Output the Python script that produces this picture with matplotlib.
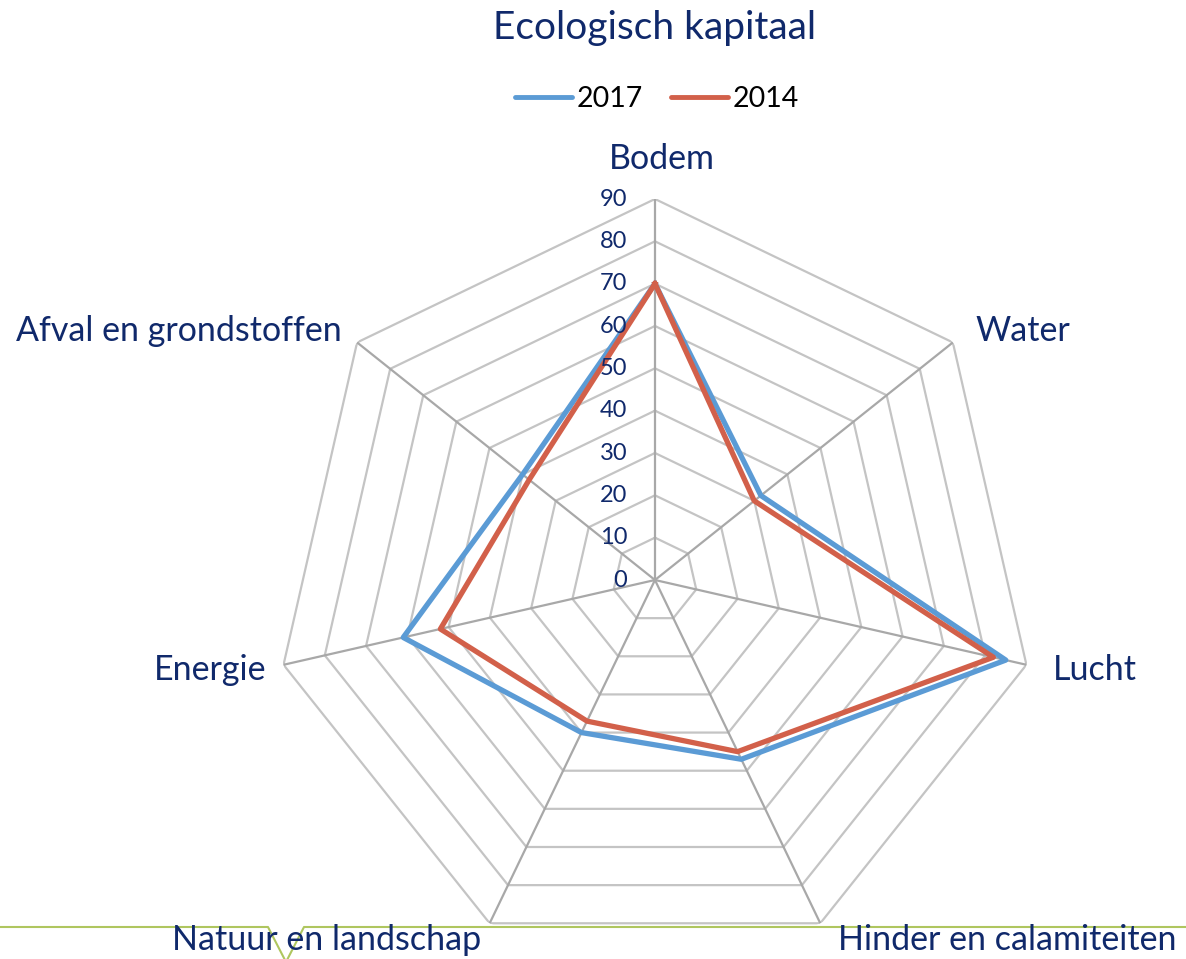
import numpy as np
import matplotlib.pyplot as plt
from matplotlib.lines import Line2D

plt.rcParams['font.family'] = ['Lato', 'DejaVu Sans']

# data
categories = ['Bodem', 'Water', 'Lucht', 'Hinder en calamiteiten',
              'Natuur en landschap', 'Energie', 'Afval en grondstoffen']
vals_2017 = [70, 32, 85, 47, 40, 61, 40]
vals_2014 = [70, 30, 82, 45, 37, 52, 38]
ticks = [0, 10, 20, 30, 40, 50, 60, 70, 80, 90]

navy = '#10296B'
blue = '#5B9BD5'
red = '#D2604A'

n = len(categories)
angles = np.arange(n) * 2 * np.pi / n
closed = np.append(angles, angles[0])

fig = plt.figure(figsize=(11.86, 9.59), dpi=100)
ax = fig.add_axes([0.2310, -0.0021, 0.6425, 0.7946], projection='polar')
ax.set_theta_zero_location('N')
ax.set_theta_direction(-1)
ax.set_ylim(0, 90)
ax.axis('off')

# polygon grid
for r in ticks[1:]:
    ax.plot(closed, [r] * (n + 1), color='#C4C4C4', lw=1.6, zorder=1)
for a in angles:
    ax.plot([a, a], [0, 90], color='#A8A8A8', lw=1.6, zorder=1)

# series
ax.plot(closed, vals_2017 + vals_2017[:1], color=blue, lw=3.8, zorder=3)
ax.plot(closed, vals_2014 + vals_2014[:1], color=red, lw=3.8, zorder=4)

# radial tick labels
for t in ticks:
    ax.annotate(str(t), xy=(0, t), xytext=(-20, 0), textcoords='offset points',
                ha='right', va='center', fontsize=17, color=navy, zorder=5)

# category labels (offsets in points from the end of each spoke)
label_pos = [((5, 29), 'center'), ((16, 8), 'left'), ((19, -4), 'left'),
             ((13, -12), 'left'), ((-6, -12), 'right'), ((-12, -4), 'right'),
             ((-11, 8), 'right')]
for a, name, (off, ha) in zip(angles, categories, label_pos):
    ax.annotate(name, xy=(a, 90), xytext=off, textcoords='offset points',
                ha=ha, va='center', fontsize=24.5, color=navy, annotation_clip=False)

fig.text(655 / 1186, 1 - 28 / 959, 'Ecologisch kapitaal', ha='center', va='center',
         fontsize=28, color=navy)

handles = [Line2D([], [], color=blue, lw=3.5, solid_capstyle='round'),
           Line2D([], [], color=red, lw=3.5, solid_capstyle='round')]
fig.legend(handles, ['2017', '2014'], loc='center', bbox_to_anchor=(657 / 1186, 1 - 99 / 959),
           ncol=2, frameon=False, fontsize=20.5, handlelength=2.0, handletextpad=0.15,
           columnspacing=1.0)

# green page rule at the bottom
gx = np.array([0, 268, 286, 304, 1186]) / 1186
gy = 1 - np.array([927, 927, 962, 927, 927]) / 959
fig.add_artist(Line2D(gx, gy, transform=fig.transFigure, color='#AFC65F', lw=1.5, zorder=0))

fig.savefig('out.png', dpi=100)
